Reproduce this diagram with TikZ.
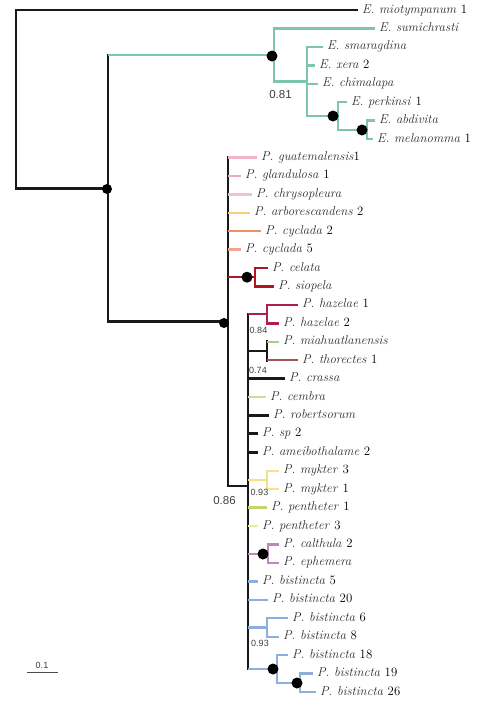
\documentclass[tikz,border=0pt]{standalone}
\usepackage{fontspec}
\newfontfamily\supfont{Liberation Sans}
\definecolor{tealc}{HTML}{7CC6AF}
\definecolor{pka}{HTML}{F0B4C4}
\definecolor{pkb}{HTML}{E9ADB5}
\definecolor{pkc}{HTML}{EEC3CB}
\definecolor{yorg}{HTML}{F6D07C}
\definecolor{orng}{HTML}{EE8E6A}
\definecolor{salm}{HTML}{EFA395}
\definecolor{dred}{HTML}{B01522}
\definecolor{crim}{HTML}{AE1F4F}
\definecolor{lgrn}{HTML}{A8CF90}
\definecolor{brnr}{HTML}{9E5558}
\definecolor{ygrn}{HTML}{CADC98}
\definecolor{pyel}{HTML}{F4E38A}
\definecolor{pgrn}{HTML}{C5D56E}
\definecolor{pyeb}{HTML}{ECEB98}
\definecolor{mauv}{HTML}{C088B6}
\definecolor{lblu}{HTML}{8EAEDC}
\definecolor{labc}{HTML}{2E2E2E}
\newcommand{\nm}[1]{\textup{\color{black}#1}}
\begin{document}
\begin{tikzpicture}[x=1pt,y=-1pt,
  bk/.style={line width=2.9pt, black!90},
  cl/.style={line width=2.4pt},
  vt/.style={line cap=rect},
  leaf/.style={anchor=west, inner ysep=0pt, inner xsep=4pt, text height=8pt, text depth=2pt,
    font=\fontsize{12.8}{14}\selectfont\itshape, text=labc},
  supv/.style={font=\supfont\fontsize{11.5}{12}\selectfont, text=black!75, inner sep=0pt},
  supsm/.style={font=\supfont\fontsize{9}{10}\selectfont, text=black!75, inner sep=0pt},
  bdot/.style={circle, fill=black, inner sep=0pt, minimum size=11pt},
]
\fill[white] (0,0) rectangle (483,705);
\useasboundingbox (0,0) rectangle (483,705);

% internal nodes
\coordinate (R) at (16,100);
\coordinate (A) at (108,188.4);
\coordinate (B) at (274,55);
\coordinate (D) at (307,81.5);
\coordinate (P1) at (338,116);
\coordinate (P2) at (367,129.8);
\coordinate (C) at (228,321.7);
\coordinate (CE) at (255,277.2);
\coordinate (G) at (248,486);
\coordinate (H) at (267,314.1);
\coordinate (M) at (267,351);
\coordinate (MY) at (267,480);
\coordinate (CA) at (268,553.7);
\coordinate (B6) at (267,627.5);
\coordinate (N1) at (277,669);
\coordinate (N2) at (300,682.8);

% leaves
\node[leaf] (miot) at (358,10) {E. miotympanum \nm{1}};
\node[leaf] (sumi) at (375,28.4) {E. sumichrasti};
\node[leaf] (smar) at (323,46.9) {E. smaragdina};
\node[leaf] (xera) at (315,65.3) {E. xera \nm{2}};
\node[leaf] (chim) at (318,83.7) {E. chimalapa};
\node[leaf] (perk) at (347,102.2) {E. perkinsi \nm{1}};
\node[leaf] (abdi) at (375,120.6) {E. abdivita};
\node[leaf] (mela) at (373,139) {E. melanomma \nm{1}};
\node[leaf] (guat) at (257,157.4) {P. guatemalensis\nm{1}};
\node[leaf] (glan) at (241,175.9) {P. glandulosa \nm{1}};
\node[leaf] (chry) at (252,194.3) {P. chrysopleura};
\node[leaf] (arbo) at (250,212.7) {P. arborescandens \nm{2}};
\node[leaf] (cyca) at (261,231.2) {P. cyclada \nm{2}};
\node[leaf] (cycb) at (241,249.6) {P. cyclada \nm{5}};
\node[leaf] (cela) at (268,268) {P. celata};
\node[leaf] (siop) at (274,286.5) {P. siopela};
\node[leaf] (haza) at (298,304.9) {P. hazelae \nm{1}};
\node[leaf] (hazb) at (279,323.3) {P. hazelae \nm{2}};
\node[leaf] (miah) at (279,341.7) {P. miahuatlanensis};
\node[leaf] (thor) at (298,360.2) {P. thorectes \nm{1}};
\node[leaf] (cras) at (285,378.6) {P. crassa};
\node[leaf] (cemb) at (266,397) {P. cembra};
\node[leaf] (robe) at (269,415.5) {P. robertsorum};
\node[leaf] (spb) at (258,433.9) {P. sp \nm{2}};
\node[leaf] (amei) at (258,452.3) {P. ameibothalame \nm{2}};
\node[leaf] (myka) at (279,470.8) {P. mykter \nm{3}};
\node[leaf] (mykb) at (279,489.2) {P. mykter \nm{1}};
\node[leaf] (pena) at (267,507.6) {P. pentheter \nm{1}};
\node[leaf] (penb) at (258,526.1) {P. pentheter \nm{3}};
\node[leaf] (calt) at (279,544.5) {P. calthula \nm{2}};
\node[leaf] (ephe) at (279,562.9) {P. ephemera};
\node[leaf] (bia) at (258,581.4) {P. bistincta \nm{5}};
\node[leaf] (bib) at (268,599.8) {P. bistincta \nm{20}};
\node[leaf] (bic) at (288,618.2) {P. bistincta \nm{6}};
\node[leaf] (bid) at (279,636.7) {P. bistincta \nm{8}};
\node[leaf] (bie) at (288,655.1) {P. bistincta \nm{18}};
\node[leaf] (bif) at (313,673.5) {P. bistincta \nm{19}};
\node[leaf] (big) at (316,692) {P. bistincta \nm{26}};

% root
\draw[bk,vt] (R |- miot.west) -- (R |- A);
\draw[bk] (R |- miot.west) -- (miot.west);
\draw[bk] (R |- A) -- (A);
% A
\draw[bk,vt] (A |- B) -- (A |- C);
\draw[cl,tealc] (A |- B) -- (B);
\draw[bk] (A |- C) -- (C);
% E clade
\begin{scope}[cl,tealc]
\draw[vt] (B |- sumi.west) -- (B |- D);
\draw (B |- sumi.west) -- (sumi.west);
\draw (B |- D) -- (D);
\draw[vt] (D |- smar.west) -- (D |- P1);
\draw (D |- smar.west) -- (smar.west);
\draw (D |- xera.west) -- (xera.west);
\draw (D |- chim.west) -- (chim.west);
\draw (D |- P1) -- (P1);
\draw[vt] (P1 |- perk.west) -- (P1 |- P2);
\draw (P1 |- perk.west) -- (perk.west);
\draw (P1 |- P2) -- (P2);
\draw[vt] (P2 |- abdi.west) -- (P2 |- mela.west);
\draw (P2 |- abdi.west) -- (abdi.west);
\draw (P2 |- mela.west) -- (mela.west);
\end{scope}
% C
\draw[bk,vt] (C |- guat.west) -- (C |- G);
\draw[cl,pka] (C |- guat.west) -- (guat.west);
\draw[cl,pkb] (C |- glan.west) -- (glan.west);
\draw[cl,pkc] (C |- chry.west) -- (chry.west);
\draw[cl,yorg] (C |- arbo.west) -- (arbo.west);
\draw[cl,orng] (C |- cyca.west) -- (cyca.west);
\draw[cl,salm] (C |- cycb.west) -- (cycb.west);
\draw[cl,dred] (C |- CE) -- (CE);
\draw[cl,dred,vt] (CE |- cela.west) -- (CE |- siop.west);
\draw[cl,dred] (CE |- cela.west) -- (cela.west);
\draw[cl,dred] (CE |- siop.west) -- (siop.west);
\draw[bk] (C |- G) -- (G);
% G
\draw[bk,vt] (G |- H) -- (G |- N1);
\draw[cl,crim] (G |- H) -- (H);
\draw[cl,crim,vt] (H |- haza.west) -- (H |- hazb.west);
\draw[cl,crim] (H |- haza.west) -- (haza.west);
\draw[cl,crim] (H |- hazb.west) -- (hazb.west);
\draw[bk] (G |- M) -- (M);
\draw[bk,vt] (M |- miah.west) -- (M |- thor.west);
\draw[cl,lgrn] (M |- miah.west) -- (miah.west);
\draw[cl,brnr] (M |- thor.west) -- (thor.west);
\draw[bk] (G |- cras.west) -- (cras.west);
\draw[cl,ygrn] (G |- cemb.west) -- (cemb.west);
\draw[bk] (G |- robe.west) -- (robe.west);
\draw[bk] (G |- spb.west) -- (spb.west);
\draw[bk] (G |- amei.west) -- (amei.west);
\draw[cl,pyel] (G |- MY) -- (MY);
\draw[cl,pyel,vt] (MY |- myka.west) -- (MY |- mykb.west);
\draw[cl,pyel] (MY |- myka.west) -- (myka.west);
\draw[cl,pyel] (MY |- mykb.west) -- (mykb.west);
\draw[cl,pgrn] (G |- pena.west) -- (pena.west);
\draw[cl,pyeb] (G |- penb.west) -- (penb.west);
\draw[cl,mauv] (G |- CA) -- (CA);
\draw[cl,mauv,vt] (CA |- calt.west) -- (CA |- ephe.west);
\draw[cl,mauv] (CA |- calt.west) -- (calt.west);
\draw[cl,mauv] (CA |- ephe.west) -- (ephe.west);
\begin{scope}[cl,lblu]
\draw (G |- bia.west) -- (bia.west);
\draw (G |- bib.west) -- (bib.west);
\draw (G |- B6) -- (B6);
\draw[vt] (B6 |- bic.west) -- (B6 |- bid.west);
\draw (B6 |- bic.west) -- (bic.west);
\draw (B6 |- bid.west) -- (bid.west);
\draw (G |- N1) -- (N1);
\draw[vt] (N1 |- bie.west) -- (N1 |- N2);
\draw (N1 |- bie.west) -- (bie.west);
\draw (N1 |- N2) -- (N2);
\draw[vt] (N2 |- bif.west) -- (N2 |- big.west);
\draw (N2 |- bif.west) -- (bif.west);
\draw (N2 |- big.west) -- (big.west);
\end{scope}

% support dots
\node[bdot, minimum size=10pt] (dA) at (107,189) {};
\node[bdot] (dB) at (272,56) {};
\node[bdot, minimum size=10pt] (dC) at (224,323) {};
\node[bdot] (dCE) at (247,277.2) {};
\node[bdot] (dP1) at (333,116) {};
\node[bdot] (dP2) at (362,130) {};
\node[bdot] (dCA) at (263,554) {};
\node[bdot] (dN1) at (273,669) {};
\node[bdot] (dN2) at (297,683) {};

% support values
\node[supv] (s81) at (280.5,95) {0.81};
\node[supsm] (s84) at (258.5,330) {0.84};
\node[supsm] (s74) at (258,370) {0.74};
\node[supsm] (s93a) at (259.5,492) {0.93};
\node[supv] (s86) at (224.5,501) {0.86};
\node[supsm] (s93b) at (260,643) {0.93};

% scale bar
\node[supsm] (sc) at (42,665) {0.1};
\coordinate (sbl) at (27,672);
\coordinate (sbr) at (58,672);
\draw[line width=1pt, black!70] (sbl) -- (sbr);
\end{tikzpicture}
\end{document}
